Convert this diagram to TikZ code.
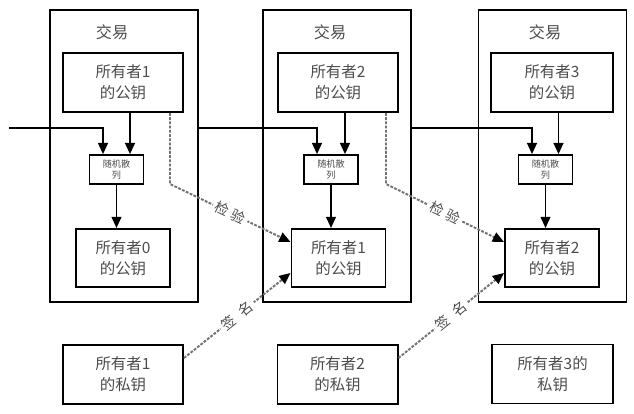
\documentclass[tikz,border=0pt]{standalone}
\usepackage{fontspec}
\newfontfamily\cjk{Noto Sans CJK SC}
\usetikzlibrary{arrows.meta}
\usetikzlibrary{calc}

\begin{document}
\begin{tikzpicture}[x=0.025cm, y=-0.025cm, line width=1.1pt,
  txbox/.style={draw, minimum width=3.7cm, minimum height=7.3cm, inner sep=0pt},
  keybox/.style={draw, line width=1.4pt, minimum width=3cm, minimum height=1.475cm, inner sep=0pt, align=center, text=black!70, font=\cjk\fontsize{11}{15}\selectfont},
  prevbox/.style={keybox, minimum width=2.35cm, minimum height=1.45cm},
  hashbox/.style={draw, line width=1.2pt, minimum width=1.35cm, minimum height=0.725cm, inner sep=0pt, align=center, text=black!70, font=\cjk\fontsize{6.5}{8}\selectfont},
  title/.style={text=black!70, font=\cjk\fontsize{11.5}{14}\selectfont},
  flow/.style={-{Triangle[width=7pt,length=8pt]}, line width=1.3pt},
  check/.style={-{Triangle[width=7pt,length=8pt,color=black]}, draw=black!55, line width=1.4pt, dash pattern=on 2pt off 1pt},
  lbl/.style={sloped, fill=white, inner sep=2pt, text=black!70, font=\cjk\fontsize{10}{12}\selectfont}]

\useasboundingbox (0,0) rectangle (634,414);

\node[txbox] (tx1) at (124,156) {};
\node[txbox] (tx2) at (337,156) {};
\node[txbox] (tx3) at (552.5,156) {};
\node[title] (title1) at (112,32) {交易};
\node[title] (title2) at (330,32) {交易};
\node[title] (title3) at (545,32) {交易};

\node[keybox] (pub1) at (123,82.5) {所有者1\\的公钥};
\node[keybox] (pub2) at (338,82.5) {所有者2\\的公钥};
\node[keybox, minimum width=3.05cm] (pub3) at (552,82.5) {所有者3\\的公钥};

\node[hashbox] (hash1) at (116.5,169.5) {随机散\\列};
\node[hashbox] (hash2) at (331,169.5) {随机散\\列};
\node[hashbox] (hash3) at (545.5,169.5) {随机散\\列};

\node[prevbox] (prev0) at (123,258) {所有者0\\的公钥};
\node[prevbox] (prev1) at (338.5,258) {所有者1\\的公钥};
\node[prevbox] (prev2) at (552,258) {所有者2\\的公钥};

\node[keybox] (priv1) at (123,374.5) {所有者1\\的私钥};
\node[keybox] (priv2) at (337.5,374.5) {所有者2\\的私钥};
\node[keybox, minimum width=3.025cm] (priv3) at (552.5,374) {所有者3的\\私钥};

\coordinate (in0) at (9,128);
\coordinate (h1l) at ($(hash1.north)+(-13.5,0)$);
\coordinate (h1r) at ($(hash1.north)+(13.5,0)$);
\coordinate (h2l) at ($(hash2.north)+(-14,0)$);
\coordinate (h2r) at ($(hash2.north)+(14,0)$);
\coordinate (h3l) at ($(hash3.north)+(-13.5,0)$);
\coordinate (h3r) at ($(hash3.north)+(13,0)$);

\draw[flow] (in0) -| (h1l);
\draw[flow] (tx1.east |- in0) -| (h2l);
\draw[flow] (tx2.east |- in0) -| (h3l);
\draw[flow] (h1r |- pub1.south) -- (h1r);
\draw[flow] (h2r |- pub2.south) -- (h2r);
\draw[flow] (h3r |- pub3.south) -- (h3r);
\draw[flow] (hash1.south) -- (hash1.south |- prev0.north);
\draw[flow] (hash2.south) -- (hash2.south |- prev1.north);
\draw[flow] (hash3.south) -- (hash3.south |- prev2.north);

\coordinate (bend1) at (170,184);
\coordinate (bend2) at (386,184);
\draw[check] (pub1.south -| bend1) -- (bend1) -- node[lbl] {检\hspace{3pt}验} ($(prev1.west)+(0,-16)$);
\draw[check] (pub2.south -| bend2) -- (bend2) -- node[lbl] {检\hspace{3pt}验} ($(prev2.west)+(0,-16)$);
\draw[check] ($(priv1.east)+(0,-16.5)$) -- node[lbl] {签\hspace{6pt}名} ($(prev1.west)+(0,15)$);
\draw[check] ($(priv2.east)+(0,-16.5)$) -- node[lbl] {签\hspace{6pt}名} ($(prev2.west)+(0,15)$);
\end{tikzpicture}
\end{document}
